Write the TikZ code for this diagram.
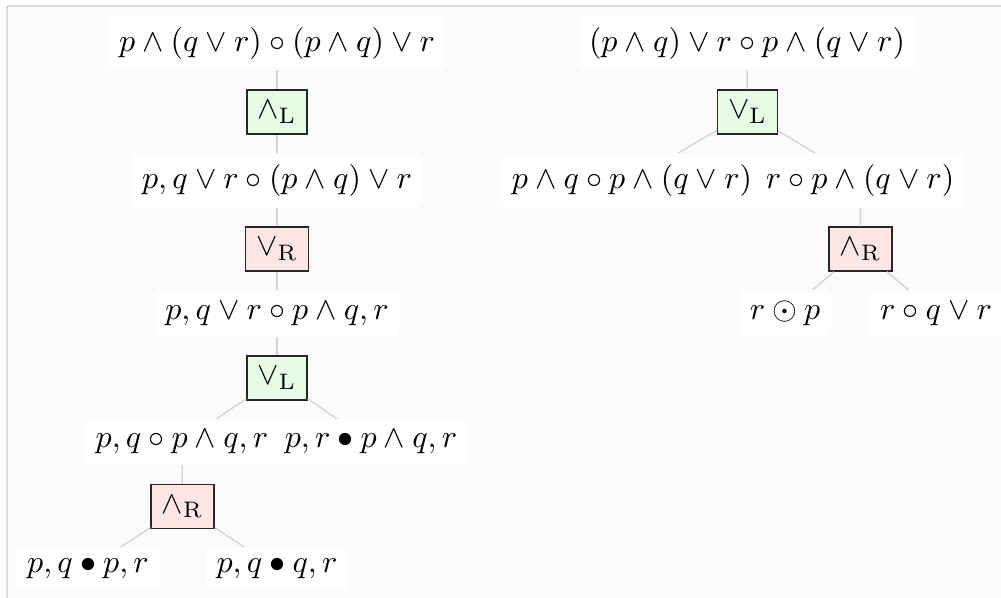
\documentclass[tikz,border=0pt]{standalone}
\begin{document}
\definecolor{bgc}{HTML}{FBFBFB}
\definecolor{bordc}{HTML}{DCDCDC}
\definecolor{edgec}{HTML}{D2D2D2}
\definecolor{greenf}{HTML}{E6FCE6}
\definecolor{redf}{HTML}{FFE6E6}
\begin{tikzpicture}[x=0.3125pt,y=-0.3125pt,
  seq/.style={fill=white,rounded corners=2pt,inner sep=3.33pt},
  rulebox/.style={draw=black!85,line width=0.4pt,inner sep=3.33pt},
  rulegreen/.style={rulebox,fill=greenf},
  rulered/.style={rulebox,fill=redf},
  edge/.style={draw=edgec,line width=0.4pt}]
\useasboundingbox (0,0) rectangle (1001,597);
\clip (0,0) rectangle (1001,597);
\fill[bgc] (7,6) rectangle (1010,610);
\draw[bordc,line width=0.6pt] (7,610) -- (7,6) -- (1010,6);
% left tree
\node[seq] (n1) at (277,43) {$p \land (q \lor r) \circ (p \land q) \lor r$};
\node[rulegreen] (r1) at (277,112) {$\land_{\mathrm{L}}$};
\node[seq] (n2) at (277,180.5) {$p, q \lor r \circ (p \land q) \lor r$};
\node[rulered] (r2) at (277,249) {$\lor_{\mathrm{R}}$};
\node[seq] (n3) at (277,313.5) {$p, q \lor r \circ p \land q, r$};
\node[rulegreen] (r3) at (277,378) {$\lor_{\mathrm{L}}$};
\node[seq] (n4a) at (182,442) {$p, q \circ p \land q, r$};
\node[seq] (n4b) at (371,442) {$p, r \bullet p \land q, r$};
\node[rulered] (r4) at (182.5,506.5) {$\land_{\mathrm{R}}$};
\node[seq] (n5a) at (88,568.5) {$p, q \bullet p, r$};
\node[seq] (n5b) at (277,568.5) {$p, q \bullet q, r$};
% right tree
\node[seq] (m1) at (747,43) {$(p \land q) \lor r \circ p \land (q \lor r)$};
\node[rulegreen] (s1) at (747.5,112) {$\lor_{\mathrm{L}}$};
\node[seq] (m2a) at (632,180.5) {$p \land q \circ p \land (q \lor r)$};
\node[seq] (m2b) at (860,180.5) {$r \circ p \land (q \lor r)$};
\node[rulered] (s2) at (860.5,249) {$\land_{\mathrm{R}}$};
\node[seq] (m3a) at (785,313.5) {$r \odot p$};
\node[seq] (m3b) at (936,313.5) {$r \circ q \lor r$};
% edges
\draw[edge] (n1) -- (r1);
\draw[edge] (r1) -- (n2);
\draw[edge] (n2) -- (r2);
\draw[edge] (r2) -- (n3);
\draw[edge] (n3) -- (r3);
\draw[edge] (r3) -- (n4a);
\draw[edge] (r3) -- (n4b);
\draw[edge] (n4a) -- (r4);
\draw[edge] (r4) -- (n5a);
\draw[edge] (r4) -- (n5b);
\draw[edge] (m1) -- (s1);
\draw[edge] (s1) -- (m2a);
\draw[edge] (s1) -- (m2b);
\draw[edge] (m2b) -- (s2);
\draw[edge] (s2) -- (m3a);
\draw[edge] (s2) -- (m3b);
\end{tikzpicture}
\end{document}
